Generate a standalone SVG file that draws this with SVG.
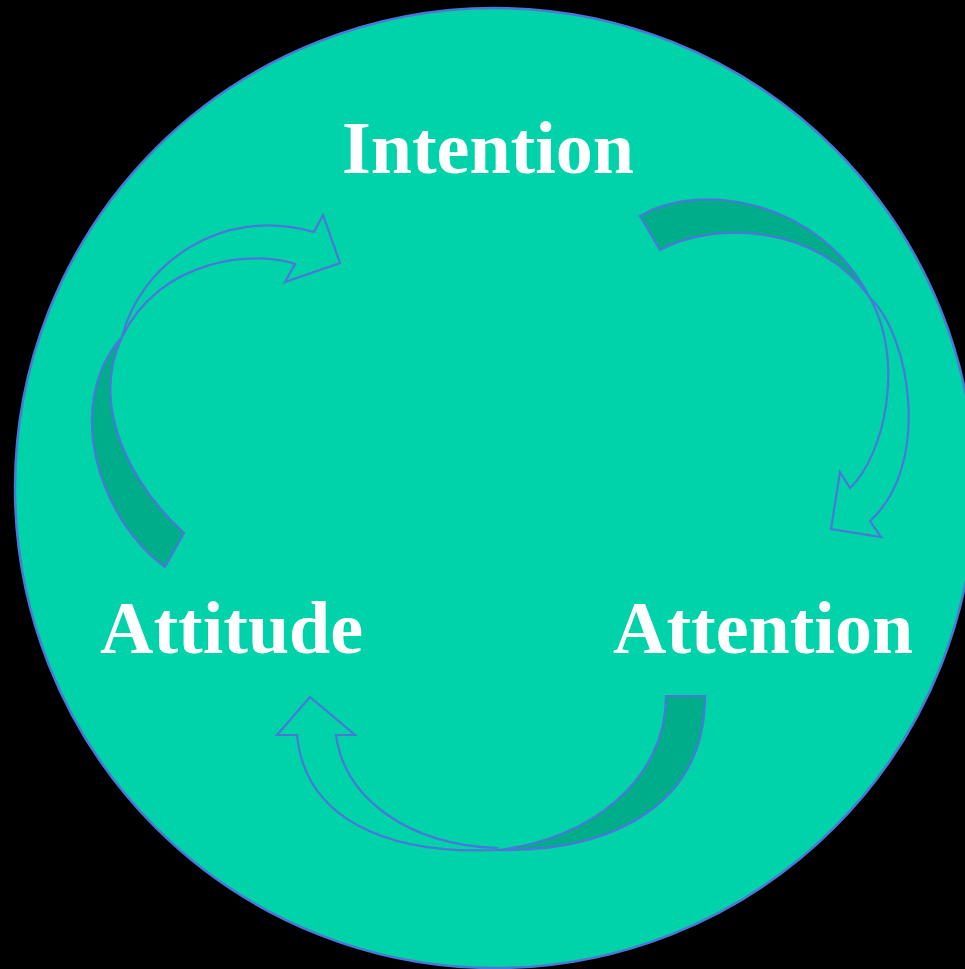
<svg xmlns="http://www.w3.org/2000/svg" width="965" height="969" viewBox="0 0 965 969">
<style>
.lbl{font-family:"Liberation Serif","Times New Roman",serif;font-weight:bold;font-size:74px;fill:#ffffff}
.dark{fill:#00AD8A;stroke:#4A78D8;stroke-width:2.2;stroke-linejoin:miter}
.light{fill:#00D2AA;stroke:#4A78D8;stroke-width:2.2;stroke-linejoin:miter}
</style>
<rect x="0" y="0" width="965" height="969" fill="#000000"/>
<circle cx="495" cy="488" r="480" fill="#00D2AA" stroke="#4A78D8" stroke-width="2.5"/>
<g id="connectors">
<g id="arrow-attitude-intention">
<path class="dark" d="M165,567 C100,520 62,405 122,337 C88,410 135,488 184,533 Z"/>
<path class="light" d="M122,337 C140,265 220,205 314,232 L323,215 L340,263 L285,282 L295,264 C255,250 160,258 122,337 Z"/>
</g>
<g id="arrow-intention-attention">
<path class="dark" d="M640,216 C700,180 820,200 870,298 C820,225 715,220 660,250 Z"/>
<path class="light" d="M870,298 C910,335 932,465 870,521 L881,537 L831,529 L840,472 L850,488 C885,455 905,360 870,298 Z"/>
</g>
<g id="arrow-attention-attitude">
<path class="dark" d="M666,696 L705,696 C705,800 620,852 497,850 C590,840 666,780 666,696 Z"/>
<path class="light" d="M497,850 C385,855 305,818 297,735 L277,735 L310,697 L355,735 L336,735 C345,800 410,845 497,848 Z"/>
</g>
</g>
<g id="node-intention"><text class="lbl" x="488" y="173" text-anchor="middle">Intention</text></g>
<g id="node-attitude"><text class="lbl" x="100" y="653">Attitude</text></g>
<g id="node-attention"><text class="lbl" x="613" y="653">Attention</text></g>
</svg>
